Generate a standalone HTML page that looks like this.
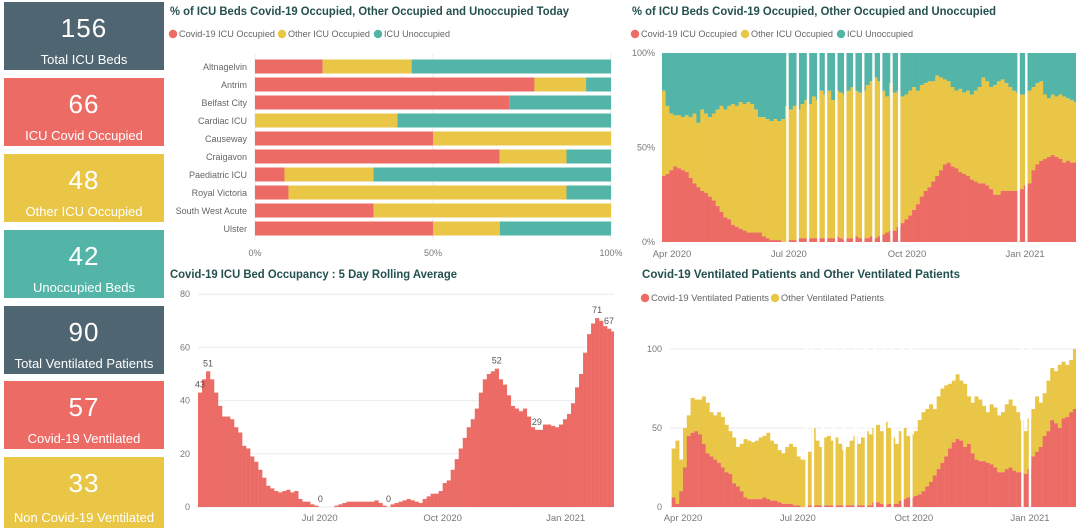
<!DOCTYPE html>
<html><head><meta charset="utf-8"><style>
html,body{margin:0;padding:0;background:#fff;width:1080px;height:530px;overflow:hidden;font-family:"Liberation Sans",sans-serif}
.card{position:absolute;left:4px;width:160px;color:#fff;text-align:center}
.card .num{position:absolute;top:11px;left:0;right:0;font-size:26px;letter-spacing:1px}
.card .lbl{position:absolute;bottom:3px;left:0;right:0;font-size:13px;white-space:nowrap}
svg{position:absolute;left:0;top:0}
</style></head><body>
<div class="card" style="top:2px;height:68px;background:#4f6672"><div class="num">156</div><div class="lbl">Total ICU Beds</div></div>
<div class="card" style="top:78px;height:68px;background:#ec6b65"><div class="num">66</div><div class="lbl">ICU Covid Occupied</div></div>
<div class="card" style="top:154px;height:68px;background:#e9c646"><div class="num">48</div><div class="lbl">Other ICU Occupied</div></div>
<div class="card" style="top:230px;height:68px;background:#52b5a8"><div class="num">42</div><div class="lbl">Unoccupied Beds</div></div>
<div class="card" style="top:306px;height:68px;background:#4f6672"><div class="num">90</div><div class="lbl">Total Ventilated Patients</div></div>
<div class="card" style="top:381px;height:68px;background:#ec6b65"><div class="num">57</div><div class="lbl">Covid-19 Ventilated</div></div>
<div class="card" style="top:457px;height:71px;background:#e9c646"><div class="num">33</div><div class="lbl">Non Covid-19 Ventilated</div></div>
<svg id="s" width="1080" height="530" xmlns="http://www.w3.org/2000/svg" font-family="Liberation Sans, sans-serif">
<defs>
<clipPath id="cTR"><rect x="662" y="40" width="414" height="210"/></clipPath>
<clipPath id="cBL"><rect x="198" y="280" width="416" height="230"/></clipPath>
<clipPath id="cBR"><rect x="670" y="300" width="406" height="210"/></clipPath>
</defs>
</svg>
<script>
// ---- hospital bar chart data ----
const hospitals=["Altnagelvin","Antrim","Belfast City","Cardiac ICU","Causeway","Craigavon","Paediatric ICU","Royal Victoria","South West Acute","Ulster"];
const hospCovid=[19,78.5,71.4,0,50,68.75,8.3,9.4,33.3,50];
const hospOther=[25,14.5,0,40,50,18.75,25,78.1,66.7,18.75];
const hospUnocc=[56,7,28.6,60,0,12.5,66.7,12.5,0,31.25];
const pctTicks=["0%","50%","100%"];
// ---- rolling avg (every 3 days from 1 Apr 2020) ----
const rollDays3=[43,48,51,48,43,38,34,34,33,30,28,23,22,19,17,14,11,8,7,6,5.5,6,6.5,5.5,6,3,2,2,1,0.5,0,0,0,0,0.5,1,1.5,2,2,2,2,2,2,2,2.5,1.5,0.5,0,1,1.5,2,2.5,3,2.5,2,1.5,3,4,5,5,6,9,10,14,18,22,26,30,33,37,43,48,50,51,52,48,46,42,38,37,36,37,34,30,29,29,31,31,30.5,30,31,33,35,39,45,50,58,65,69,71,70,68,67,66,67];
const rollLabelIdx=[0,2,30,47,74,84,99,104];
const rollTicks=[0,20,40,60,80];
// ---- % ICU over time (every 3 days from day -8) ----
const pctCovid=[35,36,38,40,39,38,37,34,31,29,27,26,24,22,19,16,13,12,9,8,7,6,5,5,5,5,3,2,1,1,1,0,0,1,1,2,2,2,2,2,2,2,2,2,2,3,2,1,2,2,3,2,2,2,3,2,3,4,5,6,6,8,10,12,14,17,20,24,27,29,32,35,38,41,42,40,39,37,36,35,33,32,31,31,30,28,25,25,27,27,27,27,27,28,30,31,38,41,43,44,45,46,45,44,42,43,42,42];
const pctTop=[80,72,68,67,67,66,67,66,68,63,70,68,66,68,70,72,70,72,73,72,74,73,74,73,70,66,66,65,64,65,64,65,72,70,72,70,73,75,73,77,75,80,78,80,75,80,79,78,80,82,80,79,80,83,85,87,85,80,77,84,79,80,77,78,80,82,80,83,84,85,85,88,87,86,85,82,80,81,79,80,78,80,82,87,85,82,83,85,86,84,82,80,79,78,78,80,82,84,85,78,76,78,77,78,77,76,75,74];
const pctGapDays=[89,97,105,113,119,127,134,141,148,156,162,170,176,269,275];
// ---- ventilated (every 3 days from day -9) ----
const ventCovid=[6,2,10,25,45,47,48,46,40,34,32,30,28,25,22,21,15,13,10,6,5,5,5,5,6,5,4,4,3,2,2,2,1,1,0,0,1,1,1,1,1,1,1,1,1,1,1,1,1,1,1,1,1,3,3,2,1,2,2,2,4,5,6,6,7,8,10,13,16,20,24,28,32,37,41,43,42,38,40,34,30,29,29,28,27,25,22,22,24,25,23,22,22,21,24,32,35,38,45,48,55,53,50,56,57,60,62,58];
const ventTotal=[37,42,30,50,58,69,68,68,70,66,60,58,60,57,52,48,44,38,40,43,42,41,42,44,45,47,42,40,36,34,38,40,38,32,30,30,35,50,42,38,44,45,42,44,40,36,38,42,45,40,44,48,46,50,52,48,54,50,44,40,48,50,45,46,48,55,60,62,65,62,70,75,77,78,80,84,80,78,70,66,70,68,64,60,65,63,58,60,65,68,64,60,55,48,56,62,70,66,72,80,88,86,90,92,90,93,100,90];
const ventGapDays=[97,102,110,119,127,136,144,151,159,165,173,180,268,274];
const ventTicks=[0,50,100];
const monthLabels=["Apr 2020","Jul 2020","Oct 2020","Jan 2021"];
const monthDays=[0,91,183,275];

const RED="#ec6b65",YEL="#e9c646",TEAL="#52b5a8",GRID="#ebebeb",TXT="#777",TITLE="#24504f";
const S=document.getElementById('s');const NS="http://www.w3.org/2000/svg";
function mk(t,a,p){const e=document.createElementNS(NS,t);for(const k in a)e.setAttribute(k,a[k]);(p||S).appendChild(e);return e;}
function txt(x,y,s,a,p){const e=mk('text',Object.assign({x:x,y:y},a),p);e.textContent=s;return e;}
function group(name){const g=mk('g',{});return g;}
function title(x,y,s,name,len){const t=txt(x,y,s,{'font-size':11.5,'font-weight':'bold',fill:TITLE,textLength:len,lengthAdjust:'spacingAndGlyphs'});}
function legend(items,y,name){const g=group(name);items.forEach(it=>{mk('circle',{cx:it[0],cy:y,r:4.2,fill:it[2]},g);txt(it[0]+6,y+3.2,it[1],{'font-size':9,fill:'#666',textLength:it[3],lengthAdjust:'spacingAndGlyphs'},g);});}

// ===== Chart 1: hospital stacked bars =====
title(170,15,"% of ICU Beds Covid-19 Occupied, Other Occupied and Unoccupied Today","hospital-chart-title",399);
legend([[173,"Covid-19 ICU Occupied",RED,96],[282,"Other ICU Occupied",YEL,82],[378,"ICU Unoccupied",TEAL,66]],34,"hospital-legend");
(function(){const g=group('hospital-bar-chart');const x0=255,x1=611;const xs=v=>x0+(x1-x0)*v/100;
[0,50,100].forEach((v,i)=>{mk('line',{x1:xs(v),x2:xs(v),y1:54,y2:240,stroke:GRID},g);txt(xs(v),256,pctTicks[i],{'font-size':9,fill:TXT,'text-anchor':'middle'},g);});
hospitals.forEach((h,i)=>{const cy=66.5+i*18;txt(247,cy+3.5,h,{'font-size':9,fill:'#666','text-anchor':'end'},g);
let a=0;[[hospCovid[i],RED],[hospOther[i],YEL],[hospUnocc[i],TEAL]].forEach(([v,c])=>{if(v>0){const r=mk('rect',{x:xs(a),y:cy-7,width:xs(a+v)-xs(a),height:14,fill:c},g);}a+=v;});});})();

// ===== Chart 2: % over time =====
title(632,15,"% of ICU Beds Covid-19 Occupied, Other Occupied and Unoccupied","pct-time-chart-title",364);
legend([[635,"Covid-19 ICU Occupied",RED,96],[745,"Other ICU Occupied",YEL,82],[841,"ICU Unoccupied",TEAL,66]],34,"pct-time-legend");
(function(){const g=group('pct-time-chart');const b=mk('g',{'clip-path':'url(#cTR)'},g);const xd=d=>672+d*1.284;const yv=v=>242-v*1.89;const w=3*1.284;
pctCovid.forEach((c,i)=>{const d=-8+3*i;const x=xd(d);const top=pctTop[i];
mk('rect',{x:x,y:yv(100),width:w+0.3,height:yv(top)-yv(100),fill:TEAL},b);
mk('rect',{x:x,y:yv(top),width:w+0.3,height:yv(c)-yv(top),fill:YEL},b);
mk('rect',{x:x,y:yv(c),width:w+0.3,height:yv(0)-yv(c),fill:RED},b);});
pctGapDays.forEach(d=>mk('rect',{x:xd(d),y:52,width:2.4,height:191,fill:'#fff'},b));
[[100,"100%"],[50,"50%"],[0,"0%"]].forEach(([v,l])=>txt(655,yv(v)+3,l,{'font-size':9,fill:TXT,'text-anchor':'end'},g));
monthLabels.forEach((l,i)=>txt(xd(monthDays[i]),257,l,{'font-size':9.5,fill:TXT,'text-anchor':'middle'},g));})();

// ===== Chart 3: rolling avg =====
title(170,278,"Covid-19 ICU Bed Occupancy : 5 Day Rolling Average","rolling-avg-title",287);
(function(){const g=group('rolling-avg-chart');const xd=d=>198+d*1.337;const yv=v=>507-v*2.66;const w=3*1.337;
rollTicks.forEach(v=>{mk('line',{x1:198,x2:614,y1:yv(v),y2:yv(v),stroke:GRID},g);txt(190,yv(v)+3,String(v),{'font-size':9,fill:TXT,'text-anchor':'end'},g);});
const b=mk('g',{'clip-path':'url(#cBL)'},g);
rollDays3.forEach((v,i)=>{mk('rect',{x:xd(3*i),y:yv(v),width:w+0.2,height:yv(0)-yv(v),fill:RED},b);});
rollLabelIdx.forEach(i=>{const v=rollDays3[i];txt(Math.min(xd(3*i)+2,609),yv(v)-5,String(Math.round(v)),{'font-size':9,fill:'#555','text-anchor':'middle'},g);});
monthLabels.slice(1).forEach((l,i)=>txt(xd(monthDays[i+1]),521,l,{'font-size':9.5,fill:TXT,'text-anchor':'middle'},g));})();

// ===== Chart 4: ventilated =====
title(642,278,"Covid-19 Ventilated Patients and Other Ventilated Patients","ventilated-title",318);
legend([[645,"Covid-19 Ventilated Patients",RED,118],[775,"Other Ventilated Patients",YEL,103]],298,"ventilated-legend");
(function(){const g=group('ventilated-chart');const xd=d=>683+d*1.262;const yv=v=>507-v*1.58;const w=3*1.262;
ventTicks.forEach(v=>{mk('line',{x1:670,x2:1076,y1:yv(v),y2:yv(v),stroke:GRID},g);txt(662,yv(v)+3,String(v),{'font-size':9,fill:TXT,'text-anchor':'end'},g);});
const b=mk('g',{'clip-path':'url(#cBR)'},g);
ventCovid.forEach((c,i)=>{const d=-9+3*i;const x=xd(d);const t=ventTotal[i];
mk('rect',{x:x,y:yv(t),width:w+0.2,height:yv(c)-yv(t),fill:YEL},b);
mk('rect',{x:x,y:yv(c),width:w+0.2,height:yv(0)-yv(c),fill:RED},b);});
ventGapDays.forEach(d=>mk('rect',{x:xd(d),y:340,width:2.4,height:167,fill:'#fff'},b));
monthLabels.forEach((l,i)=>txt(xd(monthDays[i]),521,l,{'font-size':9.5,fill:TXT,'text-anchor':'middle'},g));})();
</script>
</body></html>
